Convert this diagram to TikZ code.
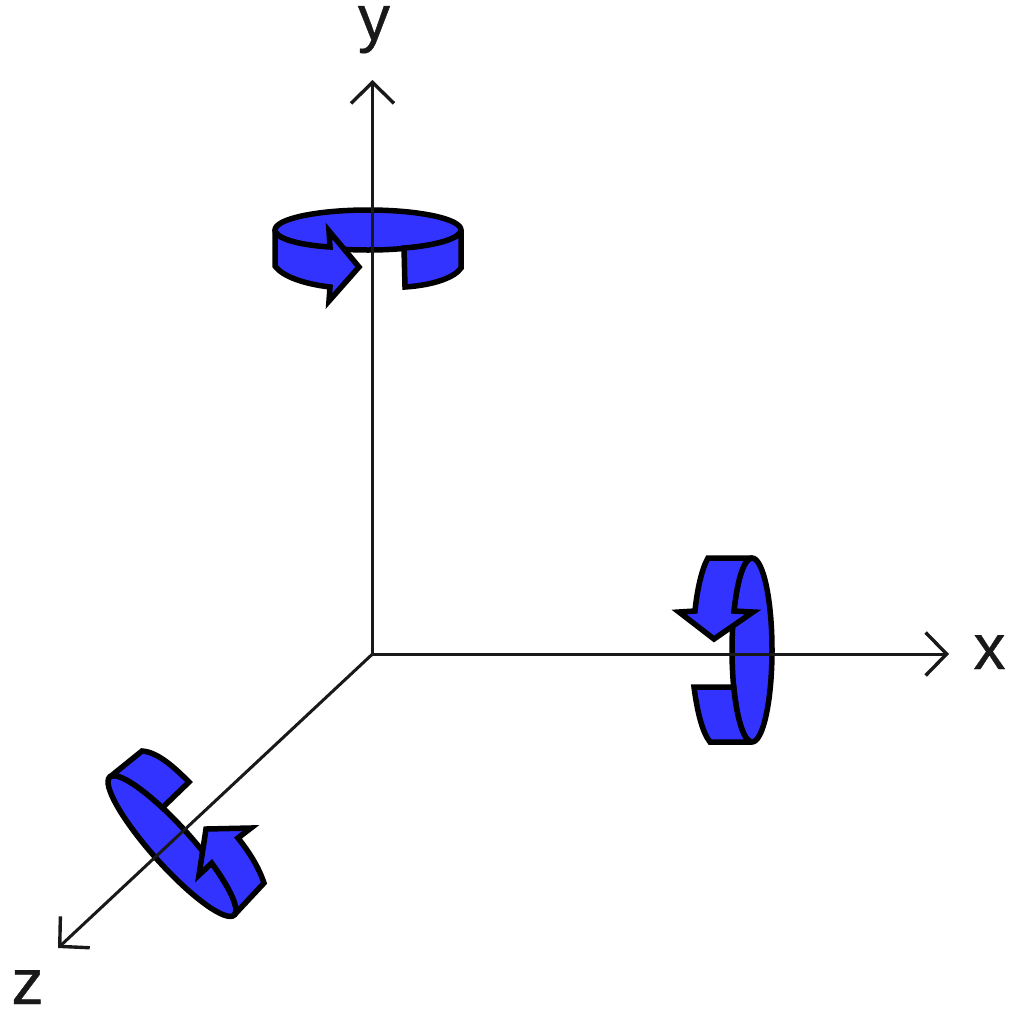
\documentclass[tikz,border=0pt]{standalone}
\usepackage{fontspec}
\setmainfont[FakeBold=0.6]{Liberation Sans}
\usetikzlibrary{arrows.meta}
\definecolor{ringblue}{RGB}{51,51,255}
\tikzset{
  axisline/.style={line width=3pt,draw=black!90,-{Straight Barb[length=21pt,width=43pt,line width=3.4pt]}},
  ringpart/.style={line width=5.5pt,draw=black,fill=ringblue,line join=miter,miter limit=4},
  axislabel/.style={font=\fontsize{64}{64}\selectfont,inner sep=0pt,text=black!90}
}
\begin{document}
\begin{tikzpicture}[x=1pt,y=-1pt]
\useasboundingbox (0,0) rectangle (1024,1015);
\fill[white] (0,0) rectangle (1024,1015);
\coordinate (o) at (372.5,654);
\coordinate (yend) at (372.5,80);
\coordinate (xend) at (949,654);
\coordinate (zend) at (58,948);
\node[axislabel,anchor=base] (ylab) at (374,40) {y};
\node[axislabel,anchor=base] (xlab) at (989.5,669) {x};
\node[axislabel,anchor=base] (zlab) at (27.5,1004) {z};
% y ring
\draw[ringpart] (368,230) ellipse [x radius=93,y radius=20];
\draw[ringpart] (404,248) -- (405,287) .. controls (435,285) and (455,277) .. (461,268) -- (461,230)
   .. controls (461,238) and (438.3,245.3) .. (404,248) -- cycle;
\draw[ringpart] (275,230) -- (275,266) .. controls (283,277) and (305,284) .. (330,287) -- (329,301) -- (359,267) -- (329,231) -- (330,247)
   .. controls (296.4,244.8) and (275,238) .. (275,230) -- cycle;
% x ring
\draw[ringpart] (752,650) ellipse [x radius=20,y radius=92];
\draw[ringpart] (708,558) -- (752,558) .. controls (744.4,558) and (737.4,578.4) .. (734,611) -- (753,612) -- (714,639) -- (679,612) -- (695,611)
   .. controls (697,590) and (702,568) .. (708,558) -- cycle;
\draw[ringpart] (694,687) -- (733.7,687) .. controls (736.9,719.8) and (744.2,742) .. (752,742) -- (710,742)
   .. controls (702,732) and (697,710) .. (694,687) -- cycle;
% z ring
\draw[ringpart,rotate around={-48:(172,846)}] (172,846) ellipse [x radius=93,y radius=20];
\draw[ringpart] (109.8,777) .. controls (115.9,771.5) and (136.6,783.6) .. (162.4,807.7) -- (189,782)
   .. controls (175,768) and (158,752) .. (142,751) -- cycle;
\draw[ringpart] (234.2,915) -- (264,883) .. controls (259,868) and (250,853) .. (238,838) -- (251,828) -- (206,829) -- (199,875) -- (211.7,863.1)
   .. controls (231.2,889.7) and (240,909.9) .. (234.2,915) -- cycle;
% axes
\draw[axisline] (o) -- (yend);
\draw[axisline] (o) -- (xend);
\draw[axisline] (o) -- (zend);
\end{tikzpicture}
\end{document}
